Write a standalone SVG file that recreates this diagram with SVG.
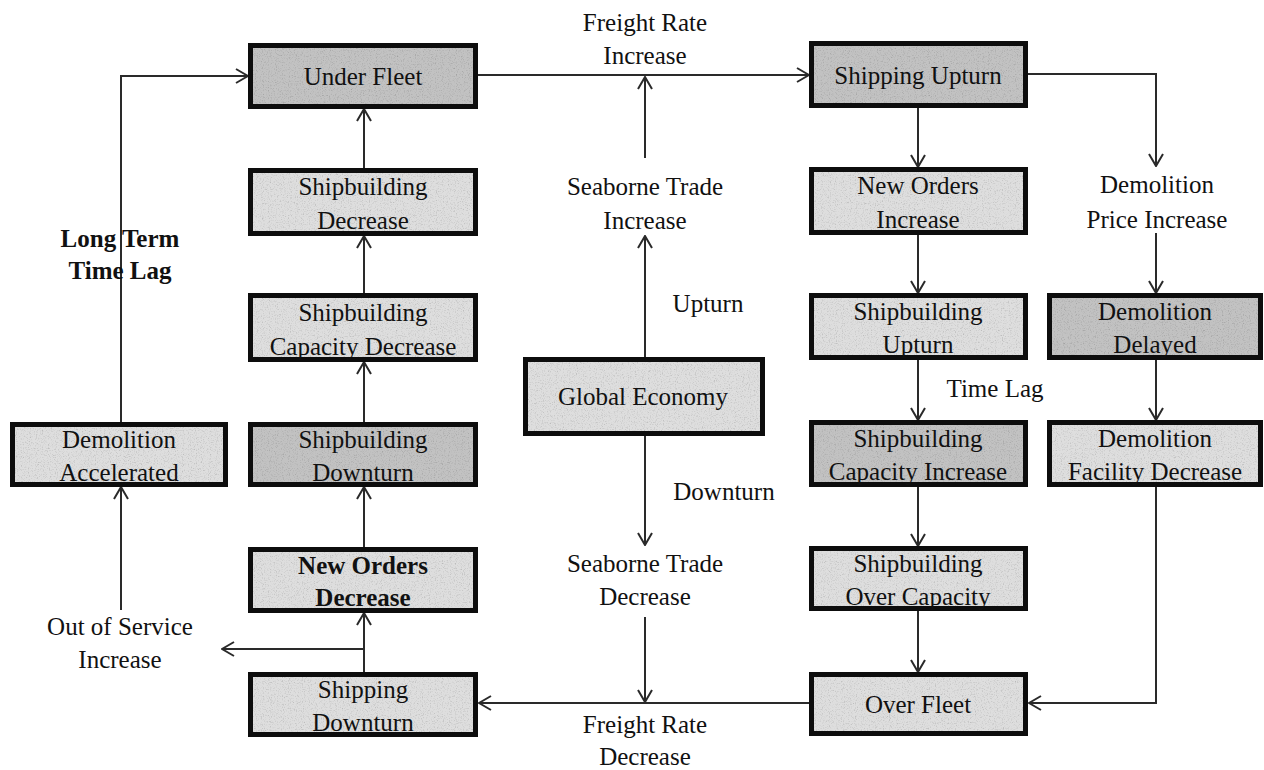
<svg xmlns="http://www.w3.org/2000/svg" width="1264" height="770" viewBox="0 0 1264 770">
  <style>
    text { font-family: "Liberation Serif", "Times New Roman", serif; font-size: 25px; fill: #111; text-anchor: middle; }
    .b { font-weight: bold; }
    .box { stroke: #111; stroke-width: 5; filter: url(#grain); }
    .dark { fill: #c2c2c2; }
    .light { fill: #dedede; }
    .wire { fill: none; stroke: #2a2a2a; stroke-width: 2; marker-end: url(#chev); }
  </style>
  <defs>
    <marker id="chev" viewBox="0 0 14 16" markerWidth="14" markerHeight="16" refX="13" refY="8" orient="auto" markerUnits="userSpaceOnUse">
      <path d="M1,1 L13,8 L1,15" fill="none" stroke="#2a2a2a" stroke-width="2"/>
    </marker>
    <!-- speckled paper texture for the box fills -->
    <filter id="grain" x="-5%" y="-10%" width="110%" height="120%">
      <feTurbulence type="fractalNoise" baseFrequency="0.85" numOctaves="2" seed="7" result="noise"/>
      <feColorMatrix in="noise" type="saturate" values="0" result="grey"/>
      <feComponentTransfer in="grey" result="tone">
        <feFuncR type="linear" slope="1.1" intercept="0.45"/>
        <feFuncG type="linear" slope="1.1" intercept="0.45"/>
        <feFuncB type="linear" slope="1.1" intercept="0.45"/>
        <feFuncA type="linear" slope="0" intercept="1"/>
      </feComponentTransfer>
      <feBlend in="SourceGraphic" in2="tone" mode="multiply" result="mixed"/>
      <feComposite in="mixed" in2="SourceGraphic" operator="in"/>
    </filter>
  </defs>
  <rect width="1264" height="770" fill="#fff"/>

  <!-- connectors -->
  <g id="connectors">
    <path class="wire" d="M478,75 L809,75"/>
    <path class="wire" d="M645,158 L645,77"/>
    <path class="wire" d="M645,357 L645,236"/>
    <path class="wire" d="M645,436 L645,545"/>
    <path class="wire" d="M645,617 L645,702"/>
    <path class="wire" d="M809,703 L479,703"/>
    <path class="wire" d="M918,108 L918,167"/>
    <path class="wire" d="M1028,74 L1156,74 L1156,166"/>
    <path class="wire" d="M1156,233 L1156,293"/>
    <path class="wire" d="M1156,360 L1156,420"/>
    <path class="wire" d="M1156,487 L1156,703 L1029,703"/>
    <path class="wire" d="M918,235 L918,293"/>
    <path class="wire" d="M918,360 L918,420"/>
    <path class="wire" d="M918,487 L918,546"/>
    <path class="wire" d="M918,611 L918,672"/>
    <path class="wire" d="M364,672 L364,613"/>
    <path class="wire" d="M364,649 L222,649"/>
    <path class="wire" d="M364,547 L364,487"/>
    <path class="wire" d="M364,422 L364,362"/>
    <path class="wire" d="M364,293 L364,236"/>
    <path class="wire" d="M364,168 L364,109"/>
    <path class="wire" d="M121,610 L121,487"/>
    <path class="wire" d="M121,422 L121,76 L248,76"/>
  </g>

  <!-- left column -->
  <g id="under-fleet">
    <rect class="box dark" x="250.5" y="45.5" width="225" height="61"/>
    <text x="363" y="85">Under Fleet</text>
  </g>
  <g id="shipbuilding-decrease">
    <rect class="box light" x="250.5" y="170.5" width="225" height="63"/>
    <text x="363" y="195">Shipbuilding</text>
    <text x="363" y="229">Decrease</text>
  </g>
  <g id="shipbuilding-capacity-decrease">
    <rect class="box light" x="250.5" y="295.5" width="225" height="64"/>
    <text x="363" y="321">Shipbuilding</text>
    <text x="363" y="355">Capacity Decrease</text>
  </g>
  <g id="shipbuilding-downturn">
    <rect class="box dark" x="250.5" y="424.5" width="225" height="60"/>
    <text x="363" y="448">Shipbuilding</text>
    <text x="363" y="481">Downturn</text>
  </g>
  <g id="new-orders-decrease">
    <rect class="box light" x="250.5" y="549.5" width="225" height="61"/>
    <text class="b" x="363" y="574">New Orders</text>
    <text class="b" x="363" y="606">Decrease</text>
  </g>
  <g id="shipping-downturn">
    <rect class="box light" x="250.5" y="674.5" width="225" height="60"/>
    <text x="363" y="698">Shipping</text>
    <text x="363" y="731">Downturn</text>
  </g>
  <g id="demolition-accelerated">
    <rect class="box light" x="12.5" y="424.5" width="213" height="60"/>
    <text x="119" y="448">Demolition</text>
    <text x="119" y="481">Accelerated</text>
  </g>

  <!-- centre -->
  <g id="global-economy">
    <rect class="box light" x="525.5" y="359.5" width="237" height="74"/>
    <text x="643" y="405">Global Economy</text>
  </g>

  <!-- right column -->
  <g id="shipping-upturn">
    <rect class="box dark" x="811.5" y="43.5" width="214" height="62"/>
    <text x="918" y="84">Shipping Upturn</text>
  </g>
  <g id="new-orders-increase">
    <rect class="box light" x="811.5" y="169.5" width="214" height="63"/>
    <text x="918" y="194">New Orders</text>
    <text x="918" y="228">Increase</text>
  </g>
  <g id="shipbuilding-upturn">
    <rect class="box light" x="811.5" y="295.5" width="214" height="62"/>
    <text x="918" y="320">Shipbuilding</text>
    <text x="918" y="353">Upturn</text>
  </g>
  <g id="shipbuilding-capacity-increase">
    <rect class="box dark" x="811.5" y="422.5" width="214" height="62"/>
    <text x="918" y="447">Shipbuilding</text>
    <text x="918" y="480">Capacity Increase</text>
  </g>
  <g id="shipbuilding-over-capacity">
    <rect class="box light" x="811.5" y="548.5" width="214" height="60"/>
    <text x="918" y="572">Shipbuilding</text>
    <text x="918" y="605">Over Capacity</text>
  </g>
  <g id="over-fleet">
    <rect class="box light" x="811.5" y="674.5" width="214" height="59"/>
    <text x="918" y="713">Over Fleet</text>
  </g>
  <g id="demolition-delayed">
    <rect class="box dark" x="1049.5" y="295.5" width="211" height="62"/>
    <text x="1155" y="320">Demolition</text>
    <text x="1155" y="353">Delayed</text>
  </g>
  <g id="demolition-facility-decrease">
    <rect class="box light" x="1049.5" y="422.5" width="211" height="62"/>
    <text x="1155" y="447">Demolition</text>
    <text x="1155" y="480">Facility Decrease</text>
  </g>

  <!-- free labels -->
  <g id="labels">
    <text x="645" y="31">Freight Rate</text>
    <text x="645" y="64">Increase</text>
    <text x="645" y="195">Seaborne Trade</text>
    <text x="645" y="229">Increase</text>
    <text x="708" y="312">Upturn</text>
    <text x="724" y="500">Downturn</text>
    <text x="645" y="572">Seaborne Trade</text>
    <text x="645" y="605">Decrease</text>
    <text x="645" y="733">Freight Rate</text>
    <text x="645" y="765">Decrease</text>
    <text x="1157" y="193">Demolition</text>
    <text x="1157" y="228">Price Increase</text>
    <text x="995" y="397">Time Lag</text>
    <text x="120" y="635">Out of Service</text>
    <text x="120" y="668">Increase</text>
    <text class="b" x="120" y="247">Long Term</text>
    <text class="b" x="120" y="279">Time Lag</text>
  </g>
</svg>
